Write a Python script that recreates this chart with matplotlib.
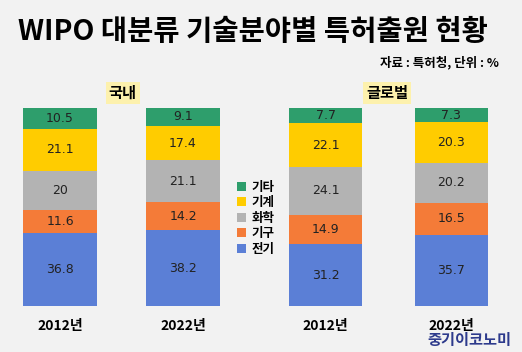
import matplotlib.pyplot as plt

plt.rcParams['font.family'] = ['Noto Sans CJK KR', 'DejaVu Sans']

# data
years = ["2012년", "2022년", "2012년", "2022년"]
groups = ["국내", "글로벌"]
categories = ["전기", "기구", "화학", "기계", "기타"]
elec = [36.8, 38.2, 31.2, 35.7]
inst = [11.6, 14.2, 14.9, 16.5]
chem = [20, 21.1, 24.1, 20.2]
mech = [21.1, 17.4, 22.1, 20.3]
etc = [10.5, 9.1, 7.7, 7.3]

series = [elec, inst, chem, mech, etc]
colors = ["#5b7fd6", "#f47b38", "#b3b3b3", "#ffcc00", "#2e9e6c"]
bg = "#f2f2f2"

xpos = [0, 1, 2.16, 3.18]
width = 0.595

fig = plt.figure(figsize=(5.22, 3.52), dpi=100, facecolor=bg)
ax = fig.add_axes([0, 0, 1, 1])
ax.set_facecolor(bg)
ax.set_xlim(-0.488, 3.756)
ax.set_ylim(-23.2, 154.5)
ax.axis("off")

bottom = [0, 0, 0, 0]
handles = []
for vals, name, c in zip(series, categories, colors):
    bars = ax.bar(xpos, vals, width, bottom=bottom, color=c, label=name)
    handles.append(bars)
    for x, b, v in zip(xpos, bottom, vals):
        ax.text(x, b + v / 2, f"{v:g}", ha="center", va="center",
                fontsize=9, color="#222222", family="DejaVu Sans")
    bottom = [b + v for b, v in zip(bottom, vals)]

for x, yr in zip(xpos, years):
    ax.text(x, -10, yr, ha="center", va="center", fontsize=10, fontweight="bold")

# group labels
ax.text(0.51, 107.5, groups[0], ha="center", va="center", fontsize=11, fontweight="bold",
        bbox=dict(boxstyle="square,pad=0.2", fc="#fdf1ad", ec="none"))
ax.text(2.66, 107.5, groups[1], ha="center", va="center", fontsize=11, fontweight="bold",
        bbox=dict(boxstyle="square,pad=0.2", fc="#fdf1ad", ec="none"))

leg = ax.legend(handles[::-1], categories[::-1], loc="center", bbox_to_anchor=(0.49, 0.38),
                frameon=False, handlelength=0.7, handleheight=0.7,
                handletextpad=0.4, labelspacing=0.2,
                prop={"weight": "bold", "size": 9})

fig.text(0.035, 0.91, "WIPO 대분류 기술분야별 특허출원 현황", fontsize=20.5,
         fontweight="heavy", ha="left", va="center")
fig.text(0.955, 0.822, "자료 : 특허청, 단위 : %", fontsize=9, fontweight="bold",
         ha="right", va="center")
fig.text(0.98, 0.033, "중기이코노미", fontsize=11, fontweight="bold", color="#2d3a8c",
         ha="right", va="center")

fig.savefig("out.png", dpi=100, facecolor=bg)
